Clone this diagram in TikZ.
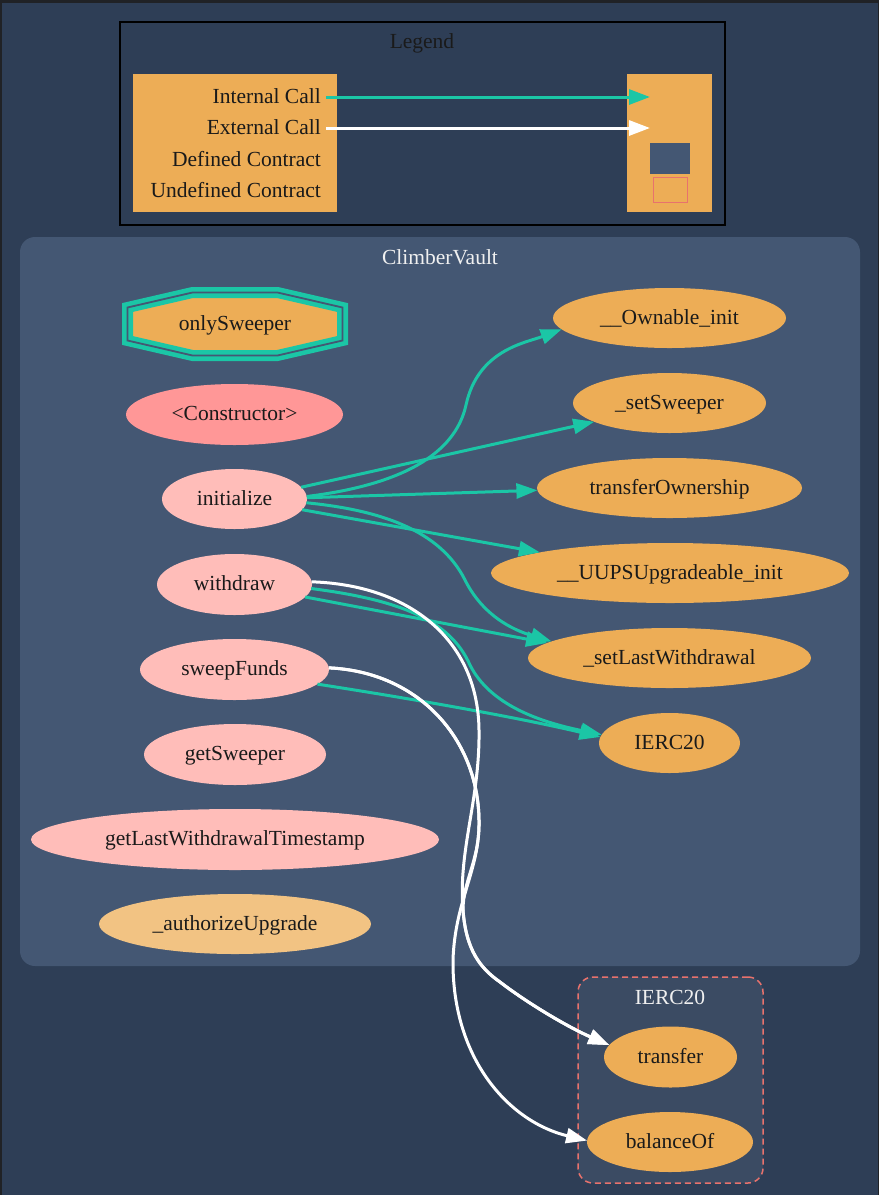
\documentclass[tikz,border=0pt]{standalone}
\usepackage{fontspec}
\setmainfont{Liberation Serif}
\usetikzlibrary{arrows.meta,shapes.geometric}
\definecolor{bg}{HTML}{2E3E56}
\definecolor{frame}{HTML}{202226}
\definecolor{clusterbg}{HTML}{445773}
\definecolor{undefbg}{HTML}{3B4B63}
\definecolor{undefred}{HTML}{E8726D}
\definecolor{orangefill}{HTML}{EDAD56}
\definecolor{publicfill}{HTML}{FF9797}
\definecolor{externalfill}{HTML}{FFBDB9}
\definecolor{internalfill}{HTML}{F2C383}
\definecolor{tealc}{HTML}{1BC6A6}
\definecolor{labelc}{HTML}{F0F0F0}
\definecolor{nodetext}{HTML}{1A1A1A}
\newcommand{\fsz}{\fontsize{21.5}{25}\selectfont}
\tikzset{
  fn/.style={ellipse, inner sep=0pt, outer sep=0pt, font=\fsz, text=nodetext,
             text height=1.25em, text depth=0em},
  orangefn/.style={fn, fill=orangefill},
  pubfn/.style={fn, fill=publicfill},
  extfn/.style={fn, fill=externalfill},
  intfn/.style={fn, fill=internalfill},
  clabel/.style={font=\fsz, text=labelc, inner sep=0pt},
  legtext/.style={font=\fsz, text=nodetext, inner sep=0pt, anchor=east,
             text height=1.25em, text depth=0em},
  icall/.style={draw=tealc, line width=3pt, -{Triangle[length=21pt,width=15pt]}},
  ecall/.style={draw=white, line width=3pt, -{Triangle[length=21pt,width=15pt]}},
}
\begin{document}
\begin{tikzpicture}[x=1pt,y=-1pt]
\useasboundingbox (0,0) rectangle (879,1195);
\fill[bg] (0,0) rectangle (879,1195);
\fill[frame] (0,0) rectangle (879,3);
\fill[frame] (0,0) rectangle (2,1195);
\fill[frame] (878,0) rectangle (879,1195);

% ---------- Legend ----------
\node[draw=black, fill=bg, line width=1.5pt, minimum width=605pt, minimum height=203pt, inner sep=0pt] (legend) at (422.5,123.5) {};
\node[font=\fsz, text=nodetext, inner sep=0pt] (legendlabel) at (422,43) {Legend};
\node[fill=orangefill, minimum width=204pt, minimum height=138pt, inner sep=0pt] (legL) at (235,143) {};
\node[fill=orangefill, minimum width=85pt, minimum height=138pt, inner sep=0pt] (legR) at (669.5,143) {};
\node[legtext] (tInt) at (321,97) {Internal Call};
\node[legtext] (tExt) at (321,128) {External Call};
\node[legtext] (tDef) at (321,160) {Defined Contract};
\node[legtext] (tUnd) at (321,191) {Undefined Contract};
\node[fill=clusterbg, minimum width=40pt, minimum height=31pt, inner sep=0pt] (defbox) at (670,158.5) {};
\node[fill=orangefill, draw=undefred, line width=1.8pt, minimum width=34pt, minimum height=25pt, inner sep=0pt] (undbox) at (670.5,190) {};
\coordinate (iS) at (326,97);
\coordinate (iE) at (650,97);
\coordinate (eS) at (326,128);
\coordinate (eE) at (650,128);
\draw[icall] (iS) -- (iE);
\draw[ecall] (eS) -- (eE);

% ---------- Clusters ----------
\node[fill=clusterbg, rounded corners=15pt, minimum width=840pt, minimum height=729pt, inner sep=0pt] (cv) at (440,601.5) {};
\node[clabel] (cvlabel) at (440,257) {ClimberVault};
\node[fill=undefbg, draw=undefred, dash pattern=on 6pt off 4pt, line width=1.5pt, rounded corners=15pt, minimum width=185pt, minimum height=206pt, inner sep=0pt] (ie) at (670.5,1080) {};
\node[clabel] (ielabel) at (670,997) {IERC20};

% ---------- Modifier (double octagon) ----------
\path[fill=orangefill, draw=tealc, line width=4.6pt, double=clusterbg, double distance=1.8pt]
  (235-42.5,324-31.5) -- (235+42.5,324-31.5) -- (235+107.5,324-16.5) -- (235+107.5,324+16.5)
  -- (235+42.5,324+31.5) -- (235-42.5,324+31.5) -- (235-107.5,324+16.5) -- (235-107.5,324-16.5) -- cycle;
\node[font=\fsz, text=nodetext, inner sep=0pt, text height=1.25em, text depth=0em] (onlySweeper) at (235,324) {onlySweeper};

% ---------- ClimberVault functions ----------
\node[pubfn, minimum width=217pt, minimum height=61pt] (ctor) at (234.5,414.5) {<Constructor>};
\node[extfn, minimum width=145pt, minimum height=60pt] (init) at (234.5,499) {initialize};
\node[extfn, minimum width=155pt, minimum height=61pt] (withdraw) at (234.5,584.5) {withdraw};
\node[extfn, minimum width=189pt, minimum height=61pt] (sweep) at (234.5,669.5) {sweepFunds};
\node[extfn, minimum width=182pt, minimum height=61pt] (getSw) at (235,754.5) {getSweeper};
\node[extfn, minimum width=408pt, minimum height=61pt] (getLast) at (235,839.5) {getLastWithdrawalTimestamp};
\node[intfn, minimum width=272pt, minimum height=60pt] (authUp) at (235,924) {\_authorizeUpgrade};

\node[orangefn, minimum width=233pt, minimum height=60pt] (own) at (669.5,318) {\_\_Ownable\_init};
\node[orangefn, minimum width=193pt, minimum height=60pt] (setSw) at (669.5,403) {\_setSweeper};
\node[orangefn, minimum width=265pt, minimum height=60pt] (tO) at (669.5,488) {transferOwnership};
\node[orangefn, minimum width=358pt, minimum height=60pt] (uups) at (670,573) {\_\_UUPSUpgradeable\_init};
\node[orangefn, minimum width=283pt, minimum height=60pt] (sLW) at (669.5,658) {\_setLastWithdrawal};
\node[orangefn, minimum width=141pt, minimum height=60pt] (ierc) at (669.5,743) {IERC20};

% ---------- IERC20 functions ----------
\node[orangefn, minimum width=133pt, minimum height=61pt] (transfer) at (670.5,1057) {transfer};
\node[orangefn, minimum width=166pt, minimum height=60pt] (balanceOf) at (670,1142) {balanceOf};

% ---------- Internal calls ----------
\draw[icall] (init.2) .. controls (400,485) and (455,455) .. (466,405) .. controls (478,350) and (525,343) .. (own.186);
\draw[icall] (init.10) -- (setSw.194);
\draw[icall] (init.1) -- (tO.181);
\draw[icall] (init.351) -- (uups.171);
\draw[icall] (init.357) .. controls (380,510) and (440,530) .. (465,580) .. controls (485,620) and (520,632) .. (sLW.172);
\draw[icall] (withdraw.350) -- (sLW.173);
\draw[icall] (withdraw.357) .. controls (400,600) and (450,620) .. (470,665) .. controls (490,705) and (540,722) .. (ierc.173);
\draw[icall] (sweep.350) .. controls (420,700) and (520,718) .. (ierc.175);

% ---------- External calls ----------
\draw[ecall] (withdraw.2) .. controls (410,585) and (478,640) .. (479,730) .. controls (480,800) and (458,850) .. (463,910) .. controls (466,950) and (480,968) .. (500,982) .. controls (530,1005) and (570,1028) .. (transfer.169);
\draw[ecall] (sweep.1) .. controls (420,672) and (478,740) .. (479,820) .. controls (480,860) and (463,880) .. (463,910) .. controls (466,950) and (480,968) .. (500,982) .. controls (530,1005) and (570,1028) .. (transfer.169);
\draw[ecall] (sweep.1) .. controls (420,672) and (478,740) .. (479,820) .. controls (480,870) and (455,900) .. (453,960) .. controls (452,1060) and (510,1122) .. (balanceOf.179);
\end{tikzpicture}
\end{document}
